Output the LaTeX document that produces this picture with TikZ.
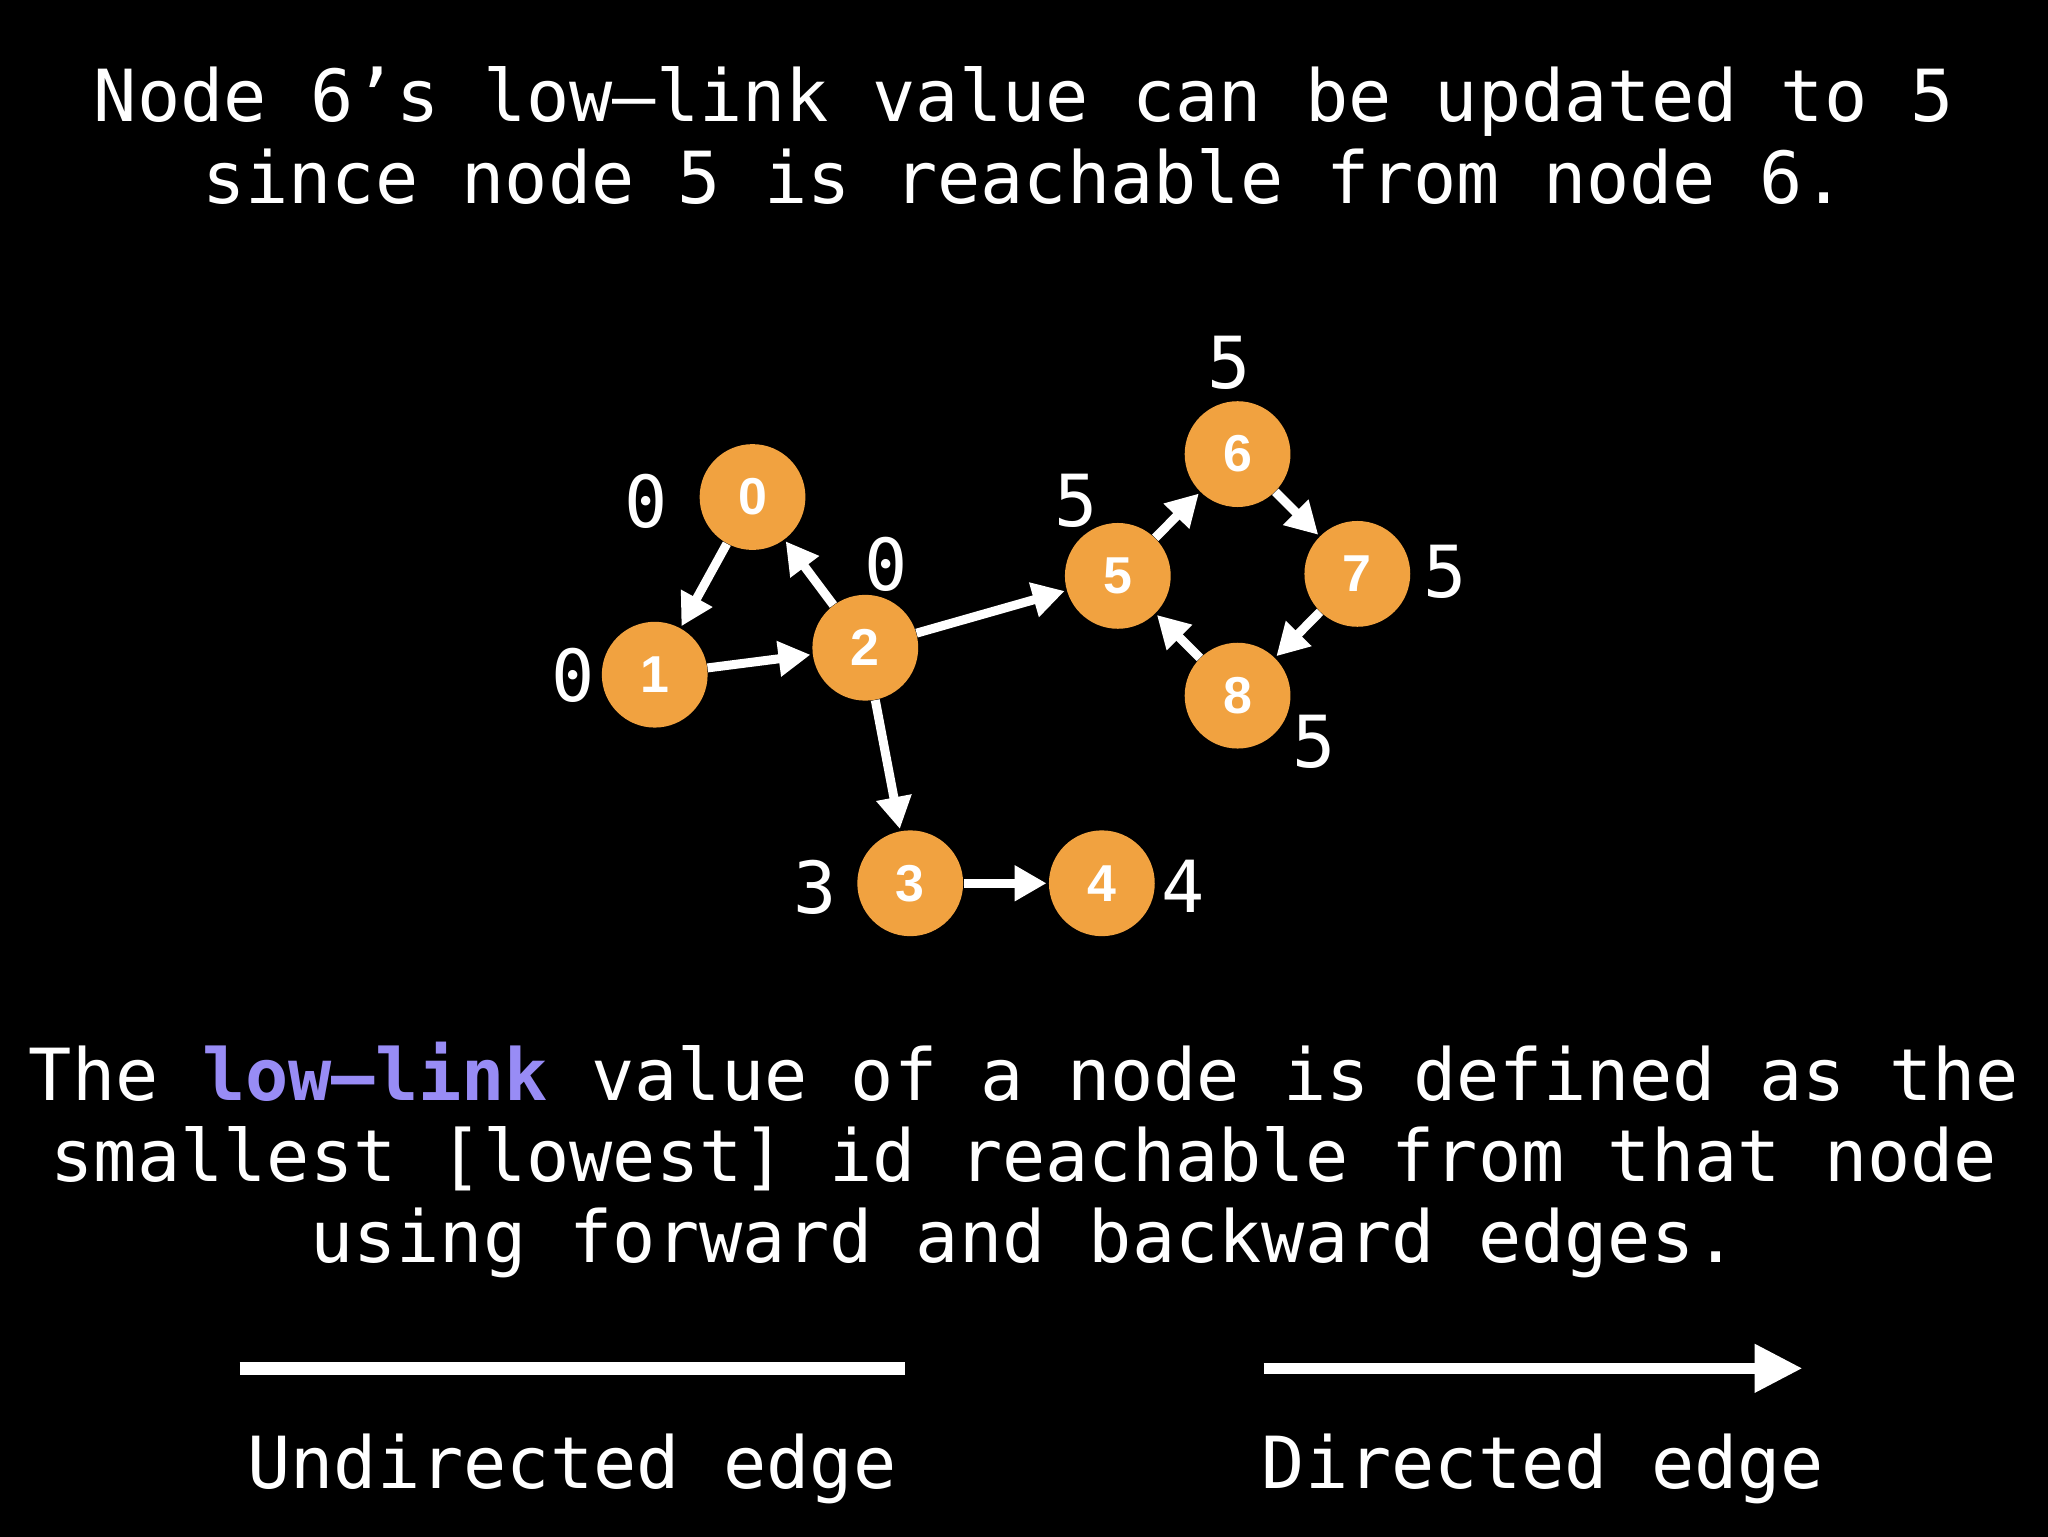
\documentclass[tikz,border=0pt]{standalone}
\usepackage{fontspec}
\setmainfont{DejaVu Sans Mono}
\newfontfamily\nodefont{Liberation Sans}
\usetikzlibrary{arrows.meta}
\definecolor{nodeorange}{RGB}{241,162,64}
\definecolor{lowpurple}{RGB}{152,140,245}
\tikzset{
  gnode/.style={circle, fill=nodeorange, minimum size=53pt, inner sep=0pt,
    text=white, font=\nodefont\fontsize{26}{26}\selectfont\bfseries},
  lowlab/.style={text=white, inner sep=0pt, font=\fontsize{36}{36}\selectfont},
  edge/.style={draw=white, line width=4.5pt,
    -{Triangle[length=16pt,width=17pt]}, shorten >=1pt, shorten <=0pt},
  bigtext/.style={text=white, align=center, inner sep=0pt,
    font=\fontsize{36}{41}\selectfont},
}
\begin{document}
\begin{tikzpicture}[x=0.5pt,y=-0.5pt]
\fill[black] (-2,-2) rectangle (2050,1538);
\useasboundingbox (0,0) rectangle (2048,1536);

% title
\node[bigtext, anchor=base] (t1) at (1024,120) {Node 6’s low–link value can be updated to 5};
\node[bigtext, anchor=base] (t2) at (1024,202) {since node 5 is reachable from node 6.};

% nodes
\node[gnode] (n0) at (752,496) {0};
\node[gnode] (n1) at (654,674) {1};
\node[gnode] (n2) at (865,647) {2};
\node[gnode] (n3) at (910,883) {3};
\node[gnode] (n4) at (1102,883) {4};
\node[gnode] (n5) at (1118,575) {5};
\node[gnode] (n6) at (1238,453) {6};
\node[gnode] (n7) at (1358,573) {7};
\node[gnode] (n8) at (1238,695) {8};

% edges
\draw[edge] (n0) -- (n1);
\draw[edge] (n1) -- (n2);
\draw[edge] (n2) -- (n0);
\draw[edge] (n2) -- (n5);
\draw[edge] (n2) -- (n3);
\draw[edge] (n3) -- (n4);
\draw[edge] (n5) -- (n6);
\draw[edge] (n6) -- (n7);
\draw[edge] (n7) -- (n8);
\draw[edge] (n8) -- (n5);

% low-link labels
\node[lowlab] (l0) at (645,500) {0};
\node[lowlab] (l1) at (572,675) {0};
\node[lowlab] (l2) at (886,563) {0};
\node[lowlab] (l5) at (1076,500) {5};
\node[lowlab] (l6) at (1230,362) {5};
\node[lowlab] (l7) at (1446,571) {5};
\node[lowlab] (l8) at (1315,741) {5};
\node[lowlab] (l3) at (815,887) {3};
\node[lowlab] (l4) at (1183,886) {4};

% definition
\node[bigtext, anchor=base] (d1) at (1024,1101) {The {\bfseries\color{lowpurple}low–link} value of a node is defined as the};
\node[bigtext, anchor=base] (d2) at (1024,1182) {smallest [lowest] id reachable from that node};
\node[bigtext, anchor=base] (d3) at (1024,1263) {using forward and backward edges.};

% legend
\coordinate (ua) at (238,1369);
\coordinate (ub) at (905,1369);
\draw[white, line width=6.5pt] (ua) -- (ub);
\coordinate (da) at (1264,1369);
\coordinate (db) at (1804,1369);
\draw[white, line width=5.5pt, -{Triangle[length=24pt,width=23pt]}] (da) -- (db);
\node[bigtext, anchor=base] (ul) at (571,1489) {Undirected edge};
\node[bigtext, anchor=base] (dl) at (1544,1489) {Directed edge};
\end{tikzpicture}
\end{document}
